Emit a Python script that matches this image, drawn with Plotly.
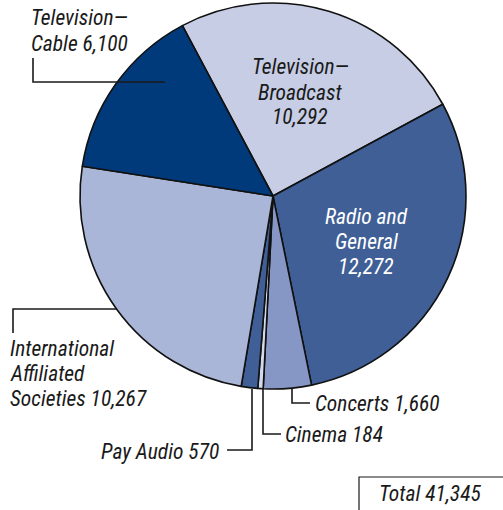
import plotly.graph_objects as go

# Royalty distribution by source, in thousands
sources = ["Television—Broadcast", "Radio and General", "Concerts", "Cinema",
           "Pay Audio", "International Affiliated Societies", "Television—Cable"]
amounts = [10292, 12272, 1660, 184, 570, 10267, 6100]
colors = ["#c6cde4", "#3f5f96", "#8797c5", "#d3d9ec", "#3f5f96", "#aab6d7", "#013a7b"]
total = sum(amounts)

W, H = 503, 510
FONT = "Liberation Sans Narrow, Arial Narrow, Roboto Condensed, sans-serif"


def px(x):
    return x / W


def py(y):
    return 1 - y / H


def fmt(v):
    return f"{v:,}"


amt = dict(zip(sources, amounts))

fig = go.Figure(go.Pie(
    labels=sources,
    values=amounts,
    sort=False,
    direction="clockwise",
    rotation=-28,
    marker=dict(colors=colors, line=dict(color="#111111", width=1.6)),
    textinfo="none",
    hoverinfo="label+value",
    showlegend=False,
    domain=dict(x=[px(80), px(466)], y=[py(389), py(3)]),
))

# Label text lines: (lines, anchor x, first line centre y, xanchor, colour)
labels = [
    (["Television—", f"Cable {fmt(amt['Television—Cable'])}"], 29, 18, "left", "#1a1a1a"),
    (["Television—", "Broadcast", fmt(amt['Television—Broadcast'])], 300, 67, "center", "#1a1a1a"),
    (["Radio and", "General", fmt(amt['Radio and General'])], 366, 216, "center", "#ffffff"),
    (["International", "Affiliated", f"Societies {fmt(amt['International Affiliated Societies'])}"],
     8, 348, "left", "#1a1a1a"),
    ([f"Concerts {fmt(amt['Concerts'])}"], 313, 403, "left", "#1a1a1a"),
    ([f"Cinema {fmt(amt['Cinema'])}"], 283, 434, "left", "#1a1a1a"),
    ([f"Pay Audio {fmt(amt['Pay Audio'])}"], 221, 451, "right", "#1a1a1a"),
    ([f"Total {fmt(total)}"], 430, 493, "center", "#1a1a1a"),
]

LINE = 25
for lines, x, y0, xa, col in labels:
    for i, t in enumerate(lines):
        fig.add_annotation(
            x=px(x), y=py(y0 + i * LINE), xref="paper", yref="paper",
            text=t, showarrow=False, xanchor=xa, yanchor="middle",
            font=dict(family=FONT, size=21.5, color=col, style="italic"),
        )

# Leader lines from slices to labels
leaders = [
    [(33, 58), (33, 82), (165, 82)],
    [(13, 333), (13, 309), (116, 309)],
    [(292, 388), (292, 403), (310, 403)],
    [(263, 389), (263, 434), (281, 434)],
    [(252, 389), (252, 450), (227, 450)],
]
for pts in leaders:
    path = "M " + " L ".join(f"{px(a)},{py(b)}" for a, b in pts)
    fig.add_shape(type="path", path=path, xref="paper", yref="paper",
                  line=dict(color="#1a1a1a", width=1.6))

# Box around the total
fig.add_shape(type="rect", xref="paper", yref="paper",
              x0=px(359), x1=px(505), y0=py(477), y1=py(512),
              line=dict(color="#1a1a1a", width=1.2))

fig.update_layout(
    width=W, height=H,
    margin=dict(l=0, r=0, t=0, b=0),
    paper_bgcolor="white",
    plot_bgcolor="white",
)

fig.write_html("out.html")
